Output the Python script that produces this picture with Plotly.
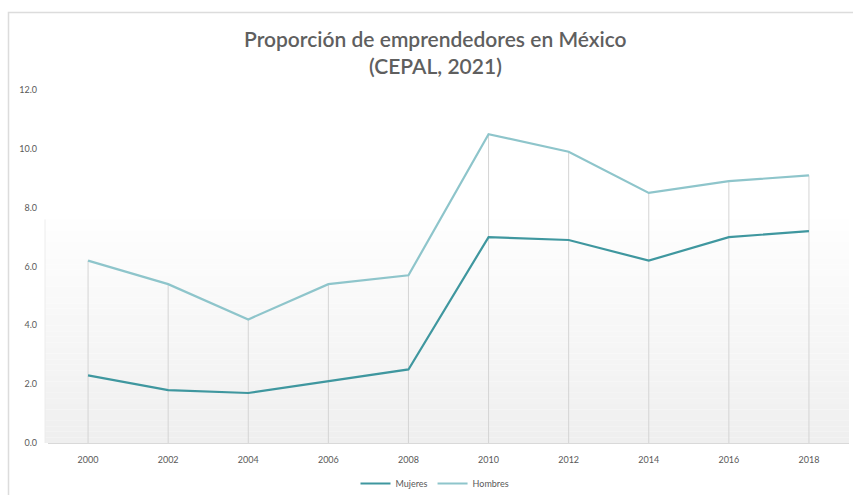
import plotly.graph_objects as go

# Data
years = [2000, 2002, 2004, 2006, 2008, 2010, 2012, 2014, 2016, 2018]
mujeres = [2.3, 1.8, 1.7, 2.1, 2.5, 7.0, 6.9, 6.2, 7.0, 7.2]
hombres = [6.2, 5.4, 4.2, 5.4, 5.7, 10.5, 9.9, 8.5, 8.9, 9.1]
y_ticks = [0, 2, 4, 6, 8, 10, 12]
title_lines = ["Proporción de emprendedores en México", "(CEPAL, 2021)"]

W, H = 853, 495
M = dict(l=48, r=4, t=90, b=52)
FONT = "Lato, 'Open Sans', sans-serif"
TXT = "#595959"


def px_x(px):
    return (px - M["l"]) / (W - M["l"] - M["r"])


def px_y(py):
    return 1 - (py - M["t"]) / (H - M["t"] - M["b"])


fig = go.Figure()

# Drop lines from the upper series down to the axis
dx, dy = [], []
for x, h in zip(years, hombres):
    dx += [x, x, None]
    dy += [0, h, None]
fig.add_trace(go.Scatter(x=dx, y=dy, mode="lines", showlegend=False,
                         hoverinfo="skip",
                         line=dict(color="#d4d4d4", width=1)))

fig.add_trace(go.Scatter(x=years, y=mujeres, mode="lines", name="Mujeres",
                         line=dict(color="#3f979f", width=2.2)))
fig.add_trace(go.Scatter(x=years, y=hombres, mode="lines", name="Hombres",
                         line=dict(color="#8ec5cb", width=2.2)))

shapes = []
# Soft vertical gradient in the lower part of the plot area
n = 40
top, bottom = 7.6, 0.0
for i in range(n):
    y0 = bottom + (top - bottom) * i / n
    y1 = bottom + (top - bottom) * (i + 1) / n
    t = i / (n - 1)
    g = int(round(239 + (254 - 239) * t))
    shapes.append(dict(type="rect", xref="paper", yref="y", x0=px_x(45), x1=1,
                       y0=y0, y1=y1, fillcolor=f"rgb({g},{g},{g})",
                       line=dict(width=0), layer="below"))
# Faint left edge of the shaded area
shapes.append(dict(type="line", xref="paper", yref="y", x0=px_x(45), x1=px_x(45),
                   y0=0, y1=top, line=dict(color="#ececec", width=1), layer="below"))
# Outer chart frame
shapes.append(dict(type="rect", xref="paper", yref="paper",
                   x0=px_x(8.5), x1=px_x(880), y0=px_y(12.5), y1=px_y(520),
                   line=dict(color="#dcdcdc", width=1.5), fillcolor="rgba(0,0,0,0)",
                   layer="below"))

# Two-line chart title
annotations = []
for i, line in enumerate(title_lines):
    annotations.append(dict(text=line, xref="paper", yref="paper",
                            x=px_x(435), y=px_y(38 + 28 * i),
                            xanchor="center", yanchor="middle", showarrow=False,
                            font=dict(family=FONT, size=21, color="#5f5f5f",
                                      weight=600)))

fig.update_layout(
    width=W, height=H, margin=dict(M, autoexpand=False),
    paper_bgcolor="white", plot_bgcolor="white",
    font=dict(family=FONT, color=TXT, size=9),
    xaxis=dict(range=[1999, 2019], tickmode="array", tickvals=years,
               ticktext=[str(y) for y in years], showgrid=False, zeroline=False,
               showline=True, linecolor="#d9d9d9", linewidth=1, ticks="",
               tickfont=dict(size=9, color=TXT), ticklabelstandoff=8),
    yaxis=dict(range=[0, 12], tickmode="array", tickvals=y_ticks,
               ticktext=[f"{v:.1f}" for v in y_ticks], showgrid=False,
               zeroline=False, showline=False, ticks="",
               tickfont=dict(size=9, color=TXT), ticklabelstandoff=10),
    legend=dict(orientation="h", x=px_x(435), xanchor="center",
                yref="container", y=1 - 469 / H, yanchor="top",
                font=dict(size=9, color=TXT),
                itemwidth=30, bgcolor="rgba(0,0,0,0)"),
    shapes=shapes,
    annotations=annotations,
    showlegend=True,
)

fig.write_html("out.html")
